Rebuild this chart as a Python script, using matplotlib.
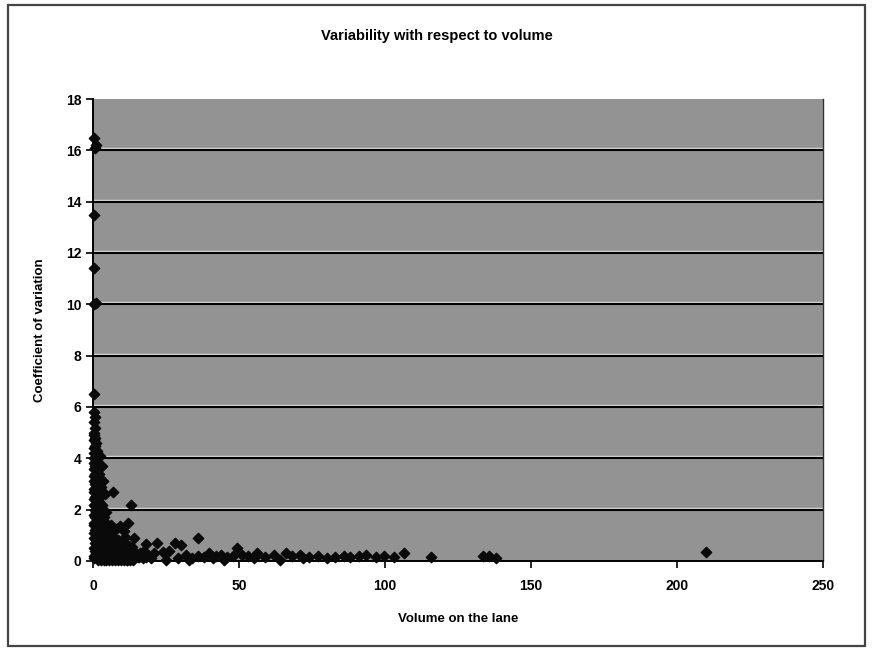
import matplotlib
matplotlib.use("Agg")
from matplotlib import pyplot as plt
from matplotlib.transforms import offset_copy
from matplotlib.patches import Rectangle

plt.rcParams["font.family"] = ["Liberation Sans", "DejaVu Sans"]

# volume on the lane vs coefficient of variation
high_vol = [0.5, 1.0, 0.6, 0.4, 0.3, 0.5, 1.0, 0.4, 0.5, 0.7, 0.3, 0.6]
high_cov = [16.5, 16.2, 16.1, 13.5, 11.4, 10.0, 10.05, 6.5, 5.8, 5.6, 5.4, 5.2]

column_vol = [0.2, 0.5, 0.8, 0.3, 1.0, 0.6, 0.2, 1.2, 0.4, 0.9, 0.3, 1.1, 0.5, 0.7,
              0.2, 1.3, 0.6, 0.4, 1.0, 0.3, 0.8, 1.5, 0.5, 0.2, 1.2, 0.7, 0.4, 1.4,
              0.3, 0.9, 0.6, 1.1, 0.2, 0.8, 1.6, 0.5, 0.3, 1.0, 0.7, 0.4, 1.3, 0.2,
              0.9, 0.6, 1.5, 0.3, 0.8, 1.1, 0.5, 0.2,
              1.8, 2.0, 1.7, 2.2, 1.9, 2.1, 1.6, 2.3, 1.8, 2.0, 1.7, 2.4, 2.6, 2.8]
column_cov = [5.0, 4.9, 4.8, 4.7, 4.6, 4.5, 4.4, 4.3, 4.2, 4.1, 4.0, 3.9, 3.8, 3.7,
              3.6, 3.5, 3.4, 3.3, 3.2, 3.1, 3.0, 2.9, 2.8, 2.7, 2.6, 2.5, 2.4, 2.3,
              2.2, 2.1, 2.0, 1.9, 1.8, 1.7, 1.6, 1.5, 1.4, 1.3, 1.2, 1.1, 1.0, 0.9,
              0.8, 0.7, 0.6, 0.5, 0.4, 0.3, 0.2, 0.1,
              3.6, 3.2, 2.8, 2.5, 2.3, 2.0, 1.8, 1.6, 1.4, 1.2, 1.0, 0.8, 0.6, 0.4]

near_vol = [2.5, 3.0, 2.0, 3.5, 2.8, 4.0, 1.8, 3.0, 2.2, 4.5, 3.6, 4.4, 2.7, 6.0,
            4.2, 7.0, 5.0, 6.8, 13.0, 12.0, 9.2, 8.0, 10.5, 5.5, 11.0, 14.0, 7.5,
            3.2, 2.4, 6.2, 9.0]
near_cov = [4.1, 3.7, 3.4, 3.1, 2.9, 2.6, 2.4, 2.2, 2.0, 1.9, 1.7, 1.48, 1.5, 1.4,
            1.3, 1.2, 1.1, 2.7, 2.2, 1.48, 1.36, 1.25, 1.15, 1.0, 0.95, 0.9, 0.85,
            1.8, 1.6, 0.75, 0.7]

blob_vol = [1.5, 2.0, 2.5, 3.0, 3.5, 4.0, 4.5, 5.0, 5.5, 6.0, 6.5, 7.0, 7.5, 8.0,
            8.5, 9.0, 9.5, 10.0, 10.5, 11.0, 11.5, 12.0, 12.5, 13.0, 13.5, 14.0,
            14.5, 15.0, 2.2, 3.3, 4.1, 5.2, 6.3, 7.1, 8.2, 9.3, 10.1, 11.2, 12.3,
            13.4, 14.2, 15.5, 16.0, 1.8, 2.8, 3.8, 4.8, 5.8, 6.8, 7.8, 8.8, 9.8,
            10.8, 11.8, 12.8, 13.8, 16.5, 17.0, 1.6, 2.6, 3.6, 4.6, 5.6, 6.6, 7.6,
            8.6, 9.6, 10.6, 11.6, 12.6, 17.5, 18.0, 19.0, 20.0,
            2.3, 3.4, 4.3, 5.3, 6.4, 7.3, 8.4, 9.4, 10.3, 11.4, 12.4, 13.2,
            2.9, 3.9, 4.9, 5.9, 6.9, 7.9, 8.9, 9.9, 10.9, 11.9, 14.8, 15.8,
            3.1, 4.2, 5.1, 6.1, 7.2, 8.1, 9.1, 10.2, 11.3, 12.2, 13.1, 14.1]
blob_cov = [0.9, 1.0, 0.8, 0.95, 0.7, 0.85, 0.6, 0.75, 0.55, 0.8, 0.5, 0.65, 0.45,
            0.7, 0.4, 0.6, 0.35, 0.55, 0.3, 0.5, 0.35, 0.45, 0.3, 0.4, 0.25, 0.35,
            0.3, 0.25, 0.5, 0.45, 0.4, 0.35, 0.3, 0.3, 0.25, 0.2, 0.25, 0.2, 0.2,
            0.15, 0.2, 0.15, 0.3, 0.2, 0.15, 0.2, 0.1, 0.15, 0.1, 0.15, 0.1, 0.1,
            0.1, 0.05, 0.1, 0.05, 0.2, 0.1, 0.05, 0.05, 0.05, 0.05, 0.05, 0.05, 0.05,
            0.05, 0.05, 0.05, 0.05, 0.05, 0.4, 0.15, 0.25, 0.1,
            1.2, 1.1, 1.05, 0.95, 0.9, 0.85, 0.8, 0.7, 0.75, 0.65, 0.6, 0.55,
            0.6, 0.55, 0.5, 0.45, 0.4, 0.35, 0.3, 0.25, 0.2, 0.25, 0.2, 0.15,
            0.3, 0.25, 0.2, 0.2, 0.15, 0.3, 0.25, 0.15, 0.1, 0.15, 0.2, 0.1]

spread_vol = [18.0, 22.0, 28.2, 30.0, 35.9, 49.2, 21.0, 24.0, 26.0, 32.0, 34.0,
              36.0, 38.0, 39.7, 42.0, 44.0, 46.0, 48.0, 51.0, 53.0, 56.0, 59.0,
              62.0, 66.0, 68.0, 71.0, 74.0, 77.0, 80.0, 83.0, 86.0, 88.0, 91.0,
              93.6, 97.0, 99.7, 103.0, 106.4, 115.8, 133.6, 135.5, 138.0, 210.0,
              25.0, 29.0, 33.0, 41.0, 45.0, 55.0, 64.0, 72.0]
spread_cov = [0.65, 0.72, 0.72, 0.62, 0.89, 0.52, 0.3, 0.35, 0.4, 0.25, 0.1,
              0.2, 0.15, 0.3, 0.2, 0.25, 0.15, 0.2, 0.25, 0.2, 0.3, 0.15,
              0.25, 0.3, 0.2, 0.25, 0.15, 0.2, 0.1, 0.15, 0.2, 0.15, 0.2,
              0.25, 0.15, 0.2, 0.15, 0.3, 0.15, 0.2, 0.2, 0.1, 0.35,
              0.05, 0.1, 0.05, 0.1, 0.05, 0.1, 0.05, 0.1]

volume = high_vol + column_vol + near_vol + blob_vol + spread_vol
cov = high_cov + column_cov + near_cov + blob_cov + spread_cov

fig = plt.figure(figsize=(8.73, 6.51), dpi=100)
ax = fig.add_axes([93 / 873, 1 - 561 / 651, 730 / 873, 462 / 651])
ax.set_facecolor("#939393")

# outer chart border
fig.patches.append(Rectangle((8 / 873, 5 / 651), 857 / 873, 641 / 651,
                             transform=fig.transFigure, fill=False,
                             edgecolor="#444444", linewidth=1.6))

ax.set_xlim(0, 250)
ax.set_ylim(0, 18)
ax.set_xticks([0, 50, 100, 150, 200, 250])
ax.set_yticks(range(0, 19, 2))

# Excel-ish gridlines: black line with a light line just above it
light = offset_copy(ax.get_yaxis_transform(), fig=fig, y=2, units="dots")
for v in range(2, 17, 2):
    ax.plot([0, 1], [v, v], transform=light, color="#d8d8d8", lw=1.0, zorder=1)
    ax.axhline(v, color="black", lw=1.5, zorder=1)

ax.scatter(volume, cov, marker="D", s=28, color="#0a0a0a", zorder=3, clip_on=False)

ax.spines["top"].set_visible(False)
ax.spines["right"].set_color("#333333")
ax.spines["right"].set_linewidth(1.0)
ax.spines["left"].set_linewidth(1.4)
ax.spines["bottom"].set_linewidth(1.4)

ax.tick_params(axis="both", direction="out", length=5, width=1.2,
               labelsize=10, colors="black")
for lab in ax.get_xticklabels() + ax.get_yticklabels():
    lab.set_fontweight("bold")
ax.tick_params(axis="x", pad=8)

fig.text(0.5, 1 - 36 / 651, "Variability with respect to volume",
         ha="center", va="center", fontsize=10.5, fontweight="bold")
ax.set_xlabel("Volume on the lane", fontsize=9.5, fontweight="bold", labelpad=14)
ax.set_ylabel("Coefficient of variation", fontsize=9.5, fontweight="bold", labelpad=14)

fig.savefig("out.png", dpi=100)
